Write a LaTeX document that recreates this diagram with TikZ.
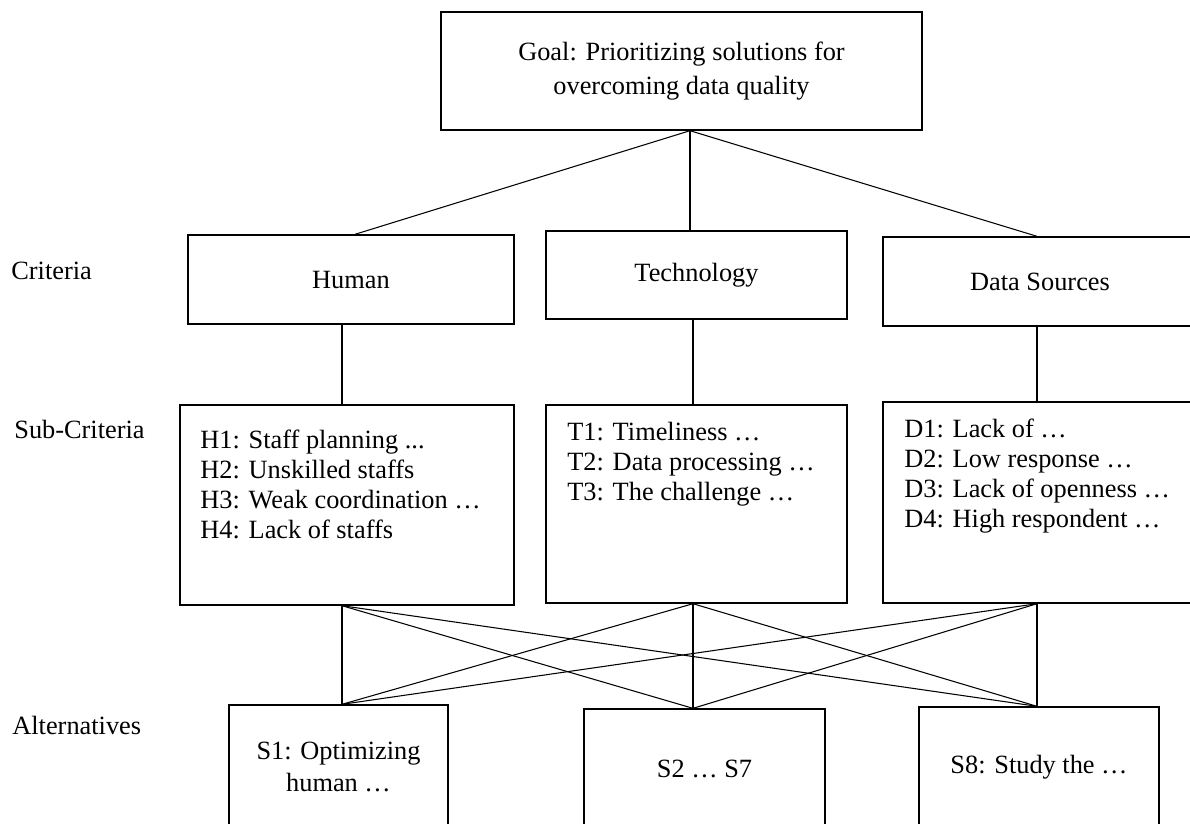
\documentclass[tikz,border=0pt]{standalone}
\usepackage{fontspec}
\setmainfont{Liberation Serif}

\begin{document}
\begin{tikzpicture}[x=0.02cm, y=-0.02cm,
        every node/.style={font=\fontsize{15}{17}\selectfont},
        box/.style={draw, line width=0.8pt, inner sep=0pt, align=center},
        list/.style={anchor=north west, inner sep=0pt, align=left},
        level/.style={anchor=base west, inner sep=0pt},
        link/.style={line width=0.6pt}]

        % page frame (boxes on the right and bottom run off the page)
        \useasboundingbox (0,0) rectangle (1190,823);
        \clip (0,0) rectangle (1190,823);

        % columns where the connectors run
        \coordinate (colh) at (342,0);
        \coordinate (colt) at (693,0);
        \coordinate (cold) at (1037,0);

        % level labels
        \node[level] (lcrit) at (11,279) {Criteria};
        \node[level] (lsub) at (14,438) {Sub-Criteria};
        \node[level] (lalt) at (12,734) {Alternatives};

        % goal
        \node[box, minimum width=9.62cm, minimum height=2.36cm] (goal) at (681.5,71)
            {Goal: Prioritizing solutions for\\[2pt]overcoming data quality};
        \coordinate (gb) at ([xshift=0.17cm]goal.south);

        % criteria
        \node[box, minimum width=6.52cm, minimum height=1.78cm] (human) at (351,279.5) {Human};
        \node[box, minimum width=6.02cm, minimum height=1.76cm] (tech) at (696.5,275) {Technology};
        \node[box, minimum width=6.28cm, minimum height=1.78cm] (data) at (1040,281.5) {Data Sources};

        % sub-criteria
        \node[box, minimum width=6.68cm, minimum height=4cm] (hsub) at (347,505) {};
        \node[box, minimum width=6.02cm, minimum height=3.96cm] (tsub) at (696.5,504) {};
        \node[box, minimum width=6.34cm, minimum height=4.02cm] (dsub) at (1041.5,502.5) {};
        \node[list] (hlist) at (200,430) {H1: Staff planning ...\\H2: Unskilled staffs\\H3: Weak coordination …\\H4: Lack of staffs};
        \node[list] (tlist) at (567,422) {T1: Timeliness …\\T2: Data processing …\\T3: The challenge …};
        \node[list] (dlist) at (904,419) {D1: Lack of …\\D2: Low response …\\D3: Lack of openness …\\D4: High respondent …};

        % alternatives
        \node[box, minimum width=4.38cm, minimum height=2.48cm] (s1) at (338.5,767) {S1: Optimizing\\[1.5pt]human …};
        \node[box, minimum width=4.82cm, minimum height=2.4cm] (s2) at (704.5,769) {S2 … S7};
        \node[box, minimum width=4.8cm, minimum height=2.4cm] (s8) at (1039,767) {S8: Study the …};

        % goal to criteria
        \draw[link] (gb) -- ([xshift=0.08cm]human.north);
        \draw[link] (gb) -- (tech.north -| gb);
        \draw[link] (gb) -- (data.north -| cold);

        % criteria to sub-criteria
        \foreach \a/\b/\c in {human/hsub/colh, tech/tsub/colt, data/dsub/cold} {
            \draw[link] (\a.south -| \c) -- (\b.north -| \c);
        }

        % every sub-criteria box to every alternative
        \foreach \a/\ca in {hsub/colh, tsub/colt, dsub/cold} {
            \foreach \b/\cb in {s1/colh, s2/colt, s8/cold} {
                \draw[link] (\a.south -| \ca) -- (\b.north -| \cb);
            }
        }

    \end{tikzpicture}
\end{document}
